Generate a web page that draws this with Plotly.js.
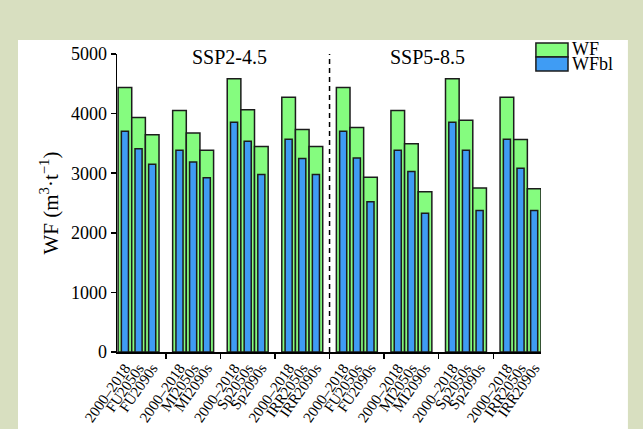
<!DOCTYPE html>
<html>
<head>
<meta charset="utf-8">
<script src="https://cdn.plot.ly/plotly-3.0.1.min.js"></script>
<style>html,body{margin:0;padding:0;background:#d8dfc0;}#chart{width:643px;height:429px;}</style>
</head>
<body>
<div id="chart"></div>
<script>
// ---- data ----
const scenarios = ['SSP2-4.5', 'SSP5-8.5'];
const groups = ['FU', 'MI', 'Sp', 'IRR'];
const baseLabel = '2000–2018';
const futureSuffixes = ['2050s', '2090s'];
const seriesNames = ['WF', 'WFbl'];

// WF values, per scenario, per group: [2000–2018, 2050s, 2090s]
const wfSSP2 = [[4440, 3935, 3645], [4050, 3675, 3385], [4585, 4065, 3450], [4275, 3735, 3450]];
const wfSSP5 = [[4440, 3765, 2930], [4050, 3495, 2690], [4585, 3890, 2750], [4275, 3565, 2740]];
// WFbl values
const wfblSSP2 = [[3705, 3410, 3150], [3385, 3190, 2925], [3855, 3535, 2980], [3570, 3245, 2980]];
const wfblSSP5 = [[3705, 3255, 2520], [3385, 3030, 2330], [3855, 3385, 2375], [3570, 3085, 2375]];

const yTicks = [0, 1000, 2000, 3000, 4000, 5000];

// ---- build ----
const wfAll = [wfSSP2, wfSSP5];
const wfblAll = [wfblSSP2, wfblSSP5];
const xs = [], labels = [], wf = [], wfbl = [], gapTicks = [];
let gi = 0;
scenarios.forEach((s, si) => {
  groups.forEach((g, k) => {
    const perLabels = [baseLabel, g + futureSuffixes[0], g + futureSuffixes[1]];
    for (let b = 0; b < 3; b++) {
      xs.push(gi * 4 + b);
      labels.push(perLabels[b]);
      wf.push(wfAll[si][k][b]);
      wfbl.push(wfblAll[si][k][b]);
    }
    if (gi < scenarios.length * groups.length - 1) gapTicks.push(gi * 4 + 3);
    gi++;
  });
});
const nGroups = gi;
const divider = groups.length * 4 - 1;

const green = '#85fc7f';
const blue = '#3f9cf4';
const edge = '#1c1c1c';
const font = '"Liberation Serif", "Times New Roman", serif';

const traces = [
  {type: 'bar', name: seriesNames[0], x: xs, y: wf, width: 1,
   marker: {color: green, line: {color: edge, width: 1.5}}, showlegend: false, hoverinfo: 'x+y'},
  {type: 'bar', name: seriesNames[1], x: xs, y: wfbl, width: 0.52,
   marker: {color: blue, line: {color: edge, width: 1.5}}, showlegend: false, hoverinfo: 'x+y'}
];

const layout = {
  width: 643, height: 429,
  margin: {l: 117, r: 102, t: 54, b: 77},
  paper_bgcolor: '#d8dfc0',
  plot_bgcolor: 'rgba(0,0,0,0)',
  barmode: 'overlay',
  font: {family: font, color: '#000', size: 18},
  showlegend: false,
  xaxis: {
    range: [-0.58, nGroups * 4 - 1.5],
    tickmode: 'array', tickvals: xs, ticktext: labels,
    ticks: '', tickangle: -55,
    tickfont: {family: font, size: 15, color: '#000'},
    showline: true, linecolor: '#000', linewidth: 1.5,
    showgrid: false, zeroline: false,
    minor: {tickmode: 'array', tickvals: gapTicks, ticks: 'outside', ticklen: 5, tickwidth: 1.5, tickcolor: '#000', showgrid: false}
  },
  yaxis: {
    range: [0, 5000],
    tickmode: 'array', tickvals: yTicks,
    ticks: 'outside', ticklen: 5, tickwidth: 1.5, tickcolor: '#000',
    tickfont: {family: font, size: 18, color: '#000'},
    showline: true, linecolor: '#000', linewidth: 1.5,
    showgrid: false, zeroline: false,
    title: {text: 'WF (m<sup>3</sup>·t<sup>−1</sup>)', font: {family: font, size: 21, color: '#000'}, standoff: 6}
  },
  shapes: [
    {type: 'rect', xref: 'paper', yref: 'paper', x0: -0.2335, x1: 1.205, y0: -0.3, y1: 1.047,
     fillcolor: '#ffffff', line: {width: 0}, layer: 'below'},
    {type: 'line', xref: 'x', yref: 'y', x0: divider, x1: divider, y0: 0, y1: 5000,
     line: {color: '#000', width: 1.5, dash: '5px,4px'}},
    {type: 'rect', xref: 'paper', yref: 'paper', x0: 0.988, x1: 1.0637, y0: 0.990, y1: 1.037,
     fillcolor: green, line: {color: edge, width: 1.5}},
    {type: 'rect', xref: 'paper', yref: 'paper', x0: 0.988, x1: 1.0637, y0: 0.943, y1: 0.990,
     fillcolor: blue, line: {color: edge, width: 1.5}}
  ],
  annotations: [
    {text: scenarios[0], xref: 'x', yref: 'paper', x: 7.7, y: 0.99, showarrow: false, xanchor: 'center', yanchor: 'middle', font: {family: font, size: 20}},
    {text: scenarios[1], xref: 'x', yref: 'paper', x: 22.2, y: 0.99, showarrow: false, xanchor: 'center', yanchor: 'middle', font: {family: font, size: 20}},
    {text: seriesNames[0], xref: 'paper', yref: 'paper', x: 1.068, y: 1.018, showarrow: false, xanchor: 'left', yanchor: 'middle', font: {family: font, size: 18}},
    {text: seriesNames[1], xref: 'paper', yref: 'paper', x: 1.068, y: 0.965, showarrow: false, xanchor: 'left', yanchor: 'middle', font: {family: font, size: 18}}
  ]
};

Plotly.newPlot('chart', traces, layout, {displayModeBar: false, staticPlot: true});
</script>
</body>
</html>
